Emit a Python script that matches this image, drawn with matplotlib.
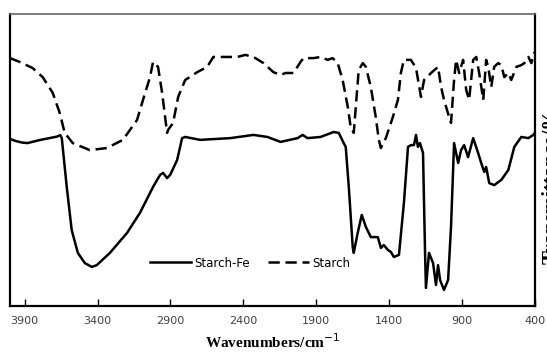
import matplotlib.pyplot as plt

wn_fe = [4000, 3960, 3920, 3880, 3840, 3800, 3760, 3720, 3680, 3655, 3645,
         3611, 3577, 3535, 3487, 3439, 3405, 3315, 3198, 3109, 3019, 2971,
         2950, 2923, 2902, 2854, 2820, 2799, 2696, 2489, 2331, 2235, 2145,
         2028, 1994, 1960, 1870, 1781, 1746, 1712, 1698, 1677, 1650, 1643,
         1616, 1588, 1560, 1526, 1478, 1457, 1437, 1409, 1388, 1368, 1333,
         1299, 1271, 1251, 1230, 1216, 1203, 1189, 1168, 1154, 1148, 1127,
         1099, 1079, 1065, 1051, 1024, 996, 976, 955, 927, 907, 886, 859,
         824, 790, 769, 748, 735, 714, 680, 631, 583, 542, 494, 446, 411, 400]
t_fe = [57.2, 56.5, 56.0, 55.8, 56.3, 56.8, 57.2, 57.6, 58.0, 58.5, 57.5,
        40.8, 26.0, 18.2, 14.7, 13.4, 14.0, 18.2, 25.0, 31.9, 40.8, 44.9,
        45.6, 43.8, 44.9, 50.0, 57.5, 57.9, 56.9, 57.5, 58.6, 57.9, 56.2,
        57.5, 58.6, 57.5, 57.9, 59.6, 59.3, 55.8, 54.5, 40.8, 20.2, 18.2,
        25.0, 31.2, 27.1, 23.6, 23.6, 19.9, 20.9, 19.2, 18.5, 16.8, 17.5,
        35.3, 54.5, 55.1, 55.1, 58.6, 54.5, 55.8, 52.4, 18.2, 6.2, 18.2,
        14.7, 7.2, 14.0, 8.9, 5.5, 8.9, 27.1, 55.8, 49.0, 53.4, 55.1, 51.0,
        57.5, 52.4, 49.0, 45.9, 47.6, 42.1, 41.4, 43.2, 46.6, 54.5, 57.9,
        57.5, 58.6, 59.5]

wn_st = [4000, 3934, 3845, 3776, 3707, 3659, 3625, 3570, 3453, 3336, 3226,
         3129, 3088, 3040, 3019, 2985, 2957, 2923, 2916, 2882, 2847, 2799,
         2716, 2648, 2606, 2510, 2441, 2386, 2331, 2262, 2194, 2145, 2111,
         2056, 2008, 1987, 1918, 1870, 1822, 1788, 1753, 1719, 1684, 1664,
         1643, 1629, 1609, 1581, 1560, 1526, 1492, 1471, 1457, 1423, 1375,
         1340, 1320, 1299, 1251, 1216, 1182, 1161, 1113, 1065, 1044, 1024,
         989, 976, 955, 941, 920, 893, 872, 852, 824, 803, 783, 755, 735,
         721, 700, 680, 652, 631, 611, 583, 563, 528, 494, 473, 446, 425, 404]
t_st = [84.9, 83.6, 81.5, 78.4, 73.0, 66.1, 59.3, 55.8, 53.4, 54.1, 56.9,
        63.7, 70.6, 78.4, 83.6, 81.9, 73.0, 59.3, 60.3, 62.7, 71.6, 77.4,
        80.1, 81.9, 85.3, 85.3, 85.3, 86.0, 85.3, 83.2, 80.1, 79.1, 79.8,
        79.8, 83.6, 84.9, 84.9, 85.3, 84.3, 84.9, 83.2, 77.4, 68.2, 61.3,
        59.3, 68.2, 80.8, 83.2, 81.9, 75.0, 64.7, 56.9, 54.1, 57.5, 64.7,
        70.6, 79.8, 84.3, 84.3, 81.5, 71.6, 77.4, 79.8, 81.9, 75.0, 70.6,
        64.7, 62.7, 77.4, 84.3, 79.8, 84.3, 74.0, 70.6, 84.3, 85.3, 79.8,
        70.6, 84.3, 81.9, 75.0, 81.9, 83.2, 82.5, 78.4, 79.8, 77.4, 81.9,
        82.5, 83.2, 85.3, 83.2, 87.0]

xticks = [3900, 3400, 2900, 2400, 1900, 1400, 900, 400]

fig = plt.figure(figsize=(5.47, 3.56), dpi=100)
ax = fig.add_axes([0.0183, 0.1404, 0.9598, 0.8202])

ax.plot(wn_fe, t_fe, color="black", lw=1.8, label="Starch-Fe")
ax.plot(wn_st, t_st, color="black", lw=1.8, dashes=(4.5, 2.3), label="Starch")

ax.set_xlim(4000, 400)
ax.set_ylim(0, 100)
ax.set_xticks(xticks)
ax.set_yticks([])
ax.tick_params(axis="x", direction="in", length=5, width=1,
               labelsize=8, labelcolor="#404040", pad=7)

for s in ["left", "bottom", "right"]:
    ax.spines[s].set_linewidth(1.6)
ax.spines["top"].set_color("#666666")
ax.spines["top"].set_linewidth(1.2)

ax.set_xlabel("Wavenumbers/cm$^{-1}$", family="Liberation Serif",
              fontweight="bold", fontsize=11, labelpad=5)
# etiqueta del eje derecho, recortada por el borde como en el original
fig.text(1.008, 0.478, "Transmittance/%", rotation=90, ha="center", va="center",
         family="Liberation Serif", fontweight="bold", fontsize=15)

ax.legend(loc="center", bbox_to_anchor=(0.457, 0.147), ncol=2, frameon=False,
          fontsize=8.5, handlelength=3.5, handletextpad=0.25, columnspacing=1.5)

plt.savefig("out.png", dpi=100)
